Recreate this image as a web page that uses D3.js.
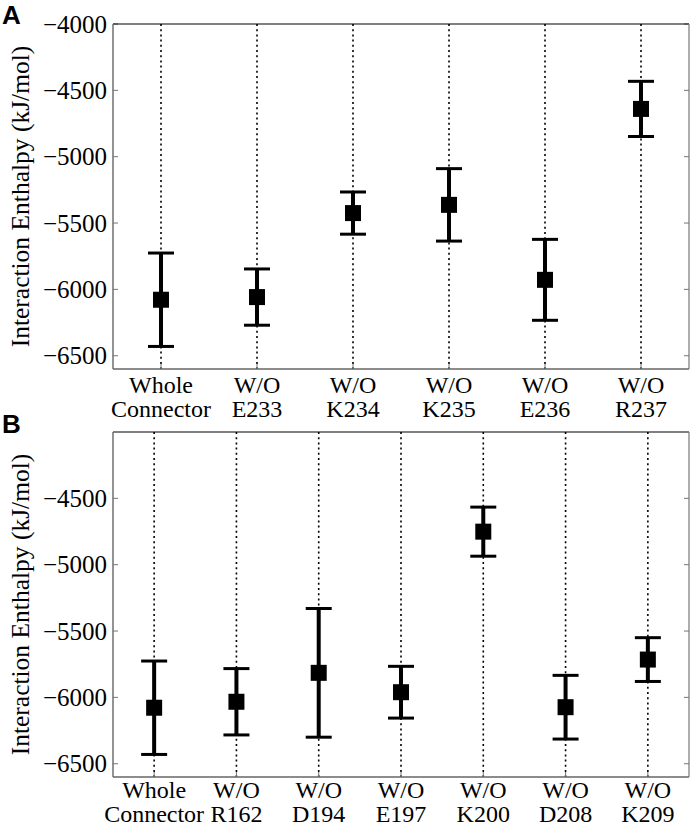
<!DOCTYPE html>
<html>
<head>
<meta charset="utf-8">
<script src="https://cdn.jsdelivr.net/npm/d3@7"></script>
<style>
  html, body { margin: 0; padding: 0; background: #fff; }
  svg { display: block; }
  .serif { font-family: "Liberation Serif", "Times New Roman", serif; }
</style>
</head>
<body>
<div id="chart"></div>
<script>
// panel A: connector without one residue of 233-237
const catsA = [["Whole", "Connector"], ["W/O", "E233"], ["W/O", "K234"], ["W/O", "K235"], ["W/O", "E236"], ["W/O", "R237"]];
const meansA = [-6078, -6058, -5425, -5363, -5928, -4640];
const errA = [352, 212, 159, 273, 305, 208];
const ticksA = [-4000, -4500, -5000, -5500, -6000, -6500];

// panel B
const catsB = [["Whole", "Connector"], ["W/O", "R162"], ["W/O", "D194"], ["W/O", "E197"], ["W/O", "K200"], ["W/O", "D208"], ["W/O", "K209"]];
const meansB = [-6078, -6033, -5815, -5961, -4751, -6074, -5715];
const errB = [352, 250, 485, 195, 185, 240, 165];
const ticksB = [-4500, -5000, -5500, -6000, -6500];

const yDomain = [-6600, -4000];
const W = 692, H = 829;

const svg = d3.select("#chart").append("svg")
    .attr("width", W)
    .attr("height", H);

function drawPanel(opts) {
    const { top, bottom, cats, means, errs, ticks, letter, letterY, lab1, lab2 } = opts;
    const left = 113, right = 689;

    const x = d3.scaleBand()
        .domain(d3.range(cats.length))
        .range([left, right])
        .padding(0);
    const y = d3.scaleLinear().domain(yDomain).range([bottom, top]);
    const cx = i => x(i) + x.bandwidth() / 2;

    const g = svg.append("g");

    // dotted guides
    g.selectAll("line.guide")
        .data(cats)
        .enter().append("line")
        .attr("class", "guide")
        .attr("x1", (d, i) => cx(i)).attr("x2", (d, i) => cx(i))
        .attr("y1", top).attr("y2", bottom)
        .attr("stroke", "#000")
        .attr("stroke-width", 1.6)
        .attr("stroke-dasharray", "2,3.2");

    // ticks on left / right / bottom, inside
    ticks.forEach(t => {
        g.append("line")
            .attr("x1", left).attr("x2", left + 5)
            .attr("y1", y(t)).attr("y2", y(t))
            .attr("stroke", "#777").attr("stroke-width", 1);
        g.append("line")
            .attr("x1", right - 5).attr("x2", right)
            .attr("y1", y(t)).attr("y2", y(t))
            .attr("stroke", "#777").attr("stroke-width", 1);
    });
    cats.forEach((c, i) => {
        g.append("line")
            .attr("x1", cx(i)).attr("x2", cx(i))
            .attr("y1", bottom).attr("y2", bottom - 5)
            .attr("stroke", "#777").attr("stroke-width", 1);
    });

    // frame
    g.append("line").attr("x1", left).attr("x2", right).attr("y1", top).attr("y2", top)
        .attr("stroke", "#000").attr("stroke-width", 1.2);
    g.append("line").attr("x1", left).attr("x2", right).attr("y1", bottom).attr("y2", bottom)
        .attr("stroke", "#666").attr("stroke-width", 1.4);
    g.append("line").attr("x1", left).attr("x2", left).attr("y1", top).attr("y2", bottom)
        .attr("stroke", "#666").attr("stroke-width", 1.4);
    g.append("line").attr("x1", right).attr("x2", right).attr("y1", top).attr("y2", bottom)
        .attr("stroke", "#777").attr("stroke-width", 1.2);

    // tick labels
    g.selectAll("text.ytick")
        .data(ticks)
        .enter().append("text")
        .attr("class", "ytick serif")
        .attr("x", left - 6)
        .attr("y", d => y(d))
        .attr("dy", "0.35em")
        .attr("text-anchor", "end")
        .style("font-size", "25px")
        .text(d => "\u2212" + Math.abs(d));

    // category labels
    cats.forEach((c, i) => {
        c.forEach((line, k) => {
            g.append("text")
                .attr("class", "serif")
                .attr("x", cx(i))
                .attr("y", bottom + (k === 0 ? lab1 : lab2))
                .attr("text-anchor", "middle")
                .style("font-size", "24px")
                .text(line);
        });
    });

    // y label
    g.append("text")
        .attr("class", "serif")
        .attr("transform", `translate(29, ${(top + bottom) / 2}) rotate(-90)`)
        .attr("text-anchor", "middle")
        .style("font-size", "25.5px")
        .text("Interaction Enthalpy (kJ/mol)");

    // error bars
    const capW = 26;
    means.forEach((m, i) => {
        const e = errs[i];
        g.append("line")
            .attr("x1", cx(i)).attr("x2", cx(i))
            .attr("y1", y(m + e)).attr("y2", y(m - e))
            .attr("stroke", "#000").attr("stroke-width", 4);
        [m + e, m - e].forEach(v => {
            g.append("line")
                .attr("x1", cx(i) - capW / 2).attr("x2", cx(i) + capW / 2)
                .attr("y1", y(v)).attr("y2", y(v))
                .attr("stroke", "#000").attr("stroke-width", 3);
        });
        g.append("rect")
            .attr("x", cx(i) - 8).attr("y", y(m) - 8)
            .attr("width", 16).attr("height", 16)
            .attr("fill", "#000");
    });

    // panel letter
    svg.append("text")
        .attr("x", 2)
        .attr("y", letterY)
        .style("font-family", "'Liberation Sans', Arial, sans-serif")
        .style("font-weight", "bold")
        .style("font-size", "26px")
        .text(letter);
}

drawPanel({ top: 24, bottom: 369, cats: catsA, means: meansA, errs: errA, ticks: ticksA, letter: "A", letterY: 24, lab1: 23.5, lab2: 48 });
drawPanel({ top: 432, bottom: 777, cats: catsB, means: meansB, errs: errB, ticks: ticksB, letter: "B", letterY: 433, lab1: 21, lab2: 45 });
</script>
</body>
</html>
